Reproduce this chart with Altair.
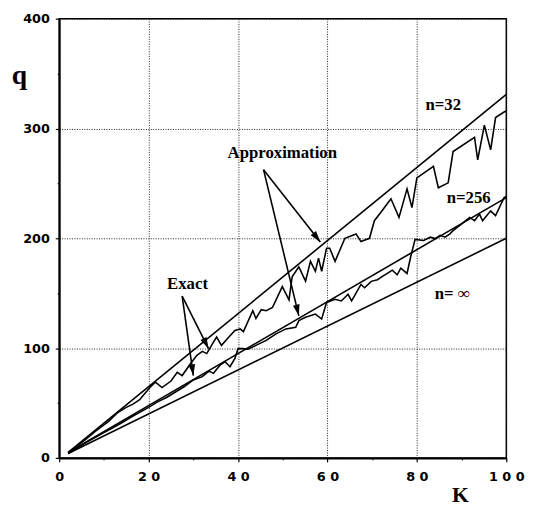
import math
import altair as alt
import pandas as pd

# ---------------- data ----------------
# approximation lines (straight)
approx_k = [2, 100]
approx_q32 = [5, 331]
approx_q256 = [5, 237]
approx_qinf = [4, 200]

# exact curves
k32 = [2, 4, 6, 8, 10, 11, 12, 13, 15, 16.5, 18, 19, 20.5, 21.5, 23, 25, 26.4, 27.5, 29.4, 30.8,
       32, 33, 34.5, 35.2, 36.3, 37.5, 39.3, 40.5, 41.2, 43.3, 44, 45.2, 46.3, 47.7, 49.9,
       51.4, 52.1, 53.6, 55.1, 56.2, 57.3, 58, 58.7, 59.8, 60.5, 61.7, 63.9, 66.4, 67.5, 69.4,
       70.5, 72, 74.2, 76, 77.8, 78.9, 80, 83.7, 84.8, 87, 88.1, 92.9, 93.6, 95.1, 96.5,
       97.6, 99.5, 100]
q32 = [4, 11, 17, 24, 30, 33, 37, 41, 46, 49, 53, 58, 65, 69, 64, 70, 78, 75, 86, 93.5,
       97, 95, 105.5, 110, 102.5, 108, 116, 117.5, 115, 134, 127, 135, 134, 137, 156,
       144, 165, 174, 161, 179, 170, 182, 170, 191, 191, 179, 200, 204, 197, 200,
       216, 224, 236, 219, 245, 228, 255, 265.5, 246, 250.5, 279, 292, 271.5, 303, 280.5,
       310, 315, 316]

k256 = [2, 4, 6, 8, 10, 12, 14, 16, 18, 20, 22, 24, 26, 28, 30, 32, 33.5, 34.5, 36, 37.1,
        38.2, 39.3, 40, 41.1, 42.2, 44, 46.3, 48.5, 50.7, 52.9, 53.6, 55.1, 57.3, 58.7, 59.8,
        61.7, 63.1, 64.6, 65.4, 67.5, 68.3, 69.8, 71.2, 72.3, 73.4, 74.5, 75.6, 76.4, 77.8, 78.6,
        79.6, 81.5, 83, 84.1, 85.2, 86.3, 87.4, 88.1, 89.6, 91.8, 92.9, 94, 94.7, 96.5, 97.6,
        99.5, 100]
q256 = [4, 9, 14, 18.5, 23, 27.5, 32, 37, 41.5, 46, 51, 55, 60, 65, 71, 74, 79, 77, 84.6, 87.6,
        83, 90.6, 99.5, 99.5, 99, 102.5, 107, 113, 117.5, 119, 125, 128, 131, 126.5, 141.4,
        144.4, 142.9, 149, 143, 158, 155, 160.8, 162.3, 165.3, 168, 171, 166.8, 172.8, 168, 183,
        199, 198, 201, 199.7, 202.7, 201, 204, 207, 211.7, 219, 216, 222, 216, 225, 220.6,
        237, 238]

# annotations
label_text = ["n=32", "n=256", "n= \u221e", "Approximation", "Exact"]
label_k = [85.9, 91.6, 87.9, 49.9, 28.7]
label_q = [321, 236.8, 148.9, 278, 158.7]
label_size = [17, 17, 17, 17, 17]

arrow_k0 = [45.7, 45.7, 27.5, 27.5]
arrow_q0 = [262.5, 262.5, 147.4, 147.4]
arrow_k1 = [58.4, 53.6, 33.4, 30.0]
arrow_q1 = [196.7, 129.4, 99.5, 75.0]

x_ticks = [0, 10, 20, 30, 40, 50, 60, 70, 80, 90, 100]
x_tick_labels = {0: "0", 20: "2 0", 40: "4 0", 60: "6 0", 80: "8 0", 100: "1 0 0"}
y_ticks = [0, 50, 100, 150, 200, 250, 300, 350, 400]
y_tick_labels = {0: "0", 100: "100", 200: "200", 300: "300", 400: "400"}

# ---------------- layout ----------------
W, H = 454, 446
XS, YS = W / 100.0, H / 400.0

rows = []
for name, qs in [("approx32", approx_q32), ("approx256", approx_q256), ("inf", approx_qinf)]:
    for k, q in zip(approx_k, qs):
        rows.append({"series": name, "K": k, "q": q})
for k, q in zip(k32, q32):
    rows.append({"series": "exact32", "K": k, "q": q})
for k, q in zip(k256, q256):
    rows.append({"series": "exact256", "K": k, "q": q})
lines_df = pd.DataFrame(rows)

labels_df = pd.DataFrame({"text": label_text, "K": label_k, "q": label_q, "size": label_size})

arrows_df = pd.DataFrame({"k0": arrow_k0, "q0": arrow_q0, "k1": arrow_k1, "q1": arrow_q1})
arrows_df["angle"] = [
    (math.degrees(math.atan2((k1 - k0) * XS, (q1 - q0) * YS)) + 360) % 360
    for k0, q0, k1, q1 in zip(arrow_k0, arrow_q0, arrow_k1, arrow_q1)
]


def lookup_expr(mapping):
    parts = []
    for v, s in mapping.items():
        parts.append(f"datum.value == {v} ? '{s}' : ")
    return "".join(parts) + "''"


x_scale = alt.Scale(domain=[0, 100], nice=False, zero=False)
y_scale = alt.Scale(domain=[0, 400], nice=False, zero=False)

x_axis = alt.Axis(
    values=x_ticks,
    labelExpr=lookup_expr(x_tick_labels),
    grid=True,
    gridOpacity={"condition": {"test": "datum.value % 20 == 0", "value": 1}, "value": 0},
    gridColor="#222222",
    gridDash=[1, 1.5],
    gridWidth=1,
    tickSize={"condition": {"test": "datum.value % 20 == 0", "value": 4}, "value": 2},
    tickColor="black",
    tickWidth=1.2,
    domainColor="black",
    domainWidth=2,
    labelFont="DejaVu Sans",
    labelFontWeight="bold",
    labelFontSize=13,
    labelColor="black",
    labelPadding=9,
    labelFlush=False,
    title="K",
    titleFont="Liberation Serif",
    titleFontSize=22,
    titleFontWeight="bold",
    titleColor="black",
    titleAngle=0,
    titleAlign="center",
    titleBaseline="alphabetic",
    titleX=407,
    titleY=44,
)

y_axis = alt.Axis(
    values=y_ticks,
    labelExpr=lookup_expr(y_tick_labels),
    grid=True,
    gridOpacity={"condition": {"test": "datum.value % 100 == 0", "value": 1}, "value": 0},
    gridColor="#222222",
    gridDash=[1, 1.5],
    gridWidth=1,
    tickSize={"condition": {"test": "datum.value % 100 == 0", "value": 4}, "value": 2},
    tickColor="black",
    tickWidth=1.2,
    domainColor="black",
    domainWidth=2,
    labelFont="DejaVu Sans",
    labelFontWeight="bold",
    labelFontSize=13,
    labelColor="black",
    labelPadding=6,
    labelFlush=False,
    title="q",
    titleFont="Liberation Serif",
    titleFontSize=28,
    titleFontWeight="bold",
    titleColor="black",
    titleAngle=0,
    titleAlign="center",
    titleBaseline="alphabetic",
    titleX=-41,
    titleY=66,
)

base_lines = alt.Chart(lines_df).mark_line(color="black", strokeWidth=1.6).encode(
    x=alt.X("K:Q", scale=x_scale, axis=x_axis),
    y=alt.Y("q:Q", scale=y_scale, axis=y_axis),
    detail="series:N",
)

text_layer = alt.Chart(labels_df).mark_text(
    font="Liberation Serif", fontWeight="bold", color="black", align="center", baseline="middle"
).encode(
    x=alt.X("K:Q", scale=x_scale),
    y=alt.Y("q:Q", scale=y_scale),
    text="text:N",
    size=alt.Size("size:Q", scale=None, legend=None),
)

arrow_lines = alt.Chart(arrows_df).mark_rule(color="black", strokeWidth=1.6).encode(
    x=alt.X("k0:Q", scale=x_scale),
    y=alt.Y("q0:Q", scale=y_scale),
    x2="k1:Q",
    y2="q1:Q",
)

arrow_heads = alt.Chart(arrows_df).mark_point(
    shape="M0,0 L-0.3,1 L0.3,1 Z", filled=True, color="black", opacity=1, size=520
).encode(
    x=alt.X("k1:Q", scale=x_scale),
    y=alt.Y("q1:Q", scale=y_scale),
    angle=alt.Angle("angle:Q", scale=None),
)

chart = (
    alt.layer(base_lines, arrow_lines, arrow_heads, text_layer)
    .properties(
        width=W,
        height=H,
        autosize=alt.AutoSizeParams(type="none"),
        padding={"left": 52, "top": 7, "right": 19, "bottom": 46},
        background="white",
    )
    .configure_view(stroke="black", strokeWidth=1.5)
)

chart.save("out.html", embed_options={"renderer": "svg", "actions": False})
